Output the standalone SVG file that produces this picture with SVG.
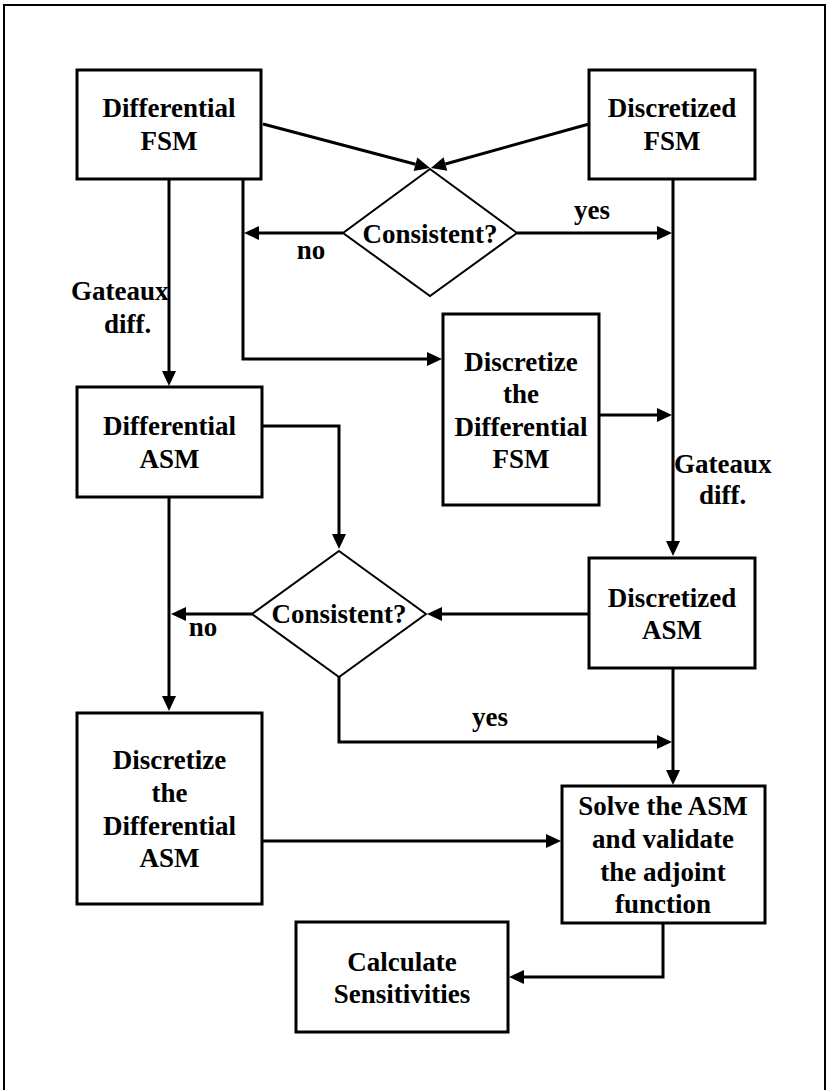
<svg xmlns="http://www.w3.org/2000/svg" width="826" height="1090" viewBox="0 0 826 1090">
<style>
.box{fill:#fff;stroke:#000;stroke-width:3}
.dia{fill:#fff;stroke:#000;stroke-width:2}
.t{font-family:"Liberation Serif","Times New Roman",serif;font-weight:bold;font-size:27px;fill:#000;text-anchor:middle}
.l{font-family:"Liberation Serif","Times New Roman",serif;font-weight:bold;font-size:27px;fill:#000}
.ca{fill:none;stroke:#000;stroke-width:3;marker-end:url(#ah)}
</style>
<defs>
<marker id="ah" markerUnits="userSpaceOnUse" markerWidth="16" markerHeight="14" refX="0" refY="7" orient="auto" overflow="visible">
<path d="M0,0 L15,7 L0,14 z" fill="#000"/>
</marker>
</defs>
<rect x="4" y="5" width="821" height="1100" fill="#fff" stroke="#000" stroke-width="2"/>
<g id="connectors">
<path class="ca" d="M263,124 L415.5,164.2"/>
<path class="ca" d="M589,124 L445.4,164"/>
<path class="ca" d="M343,233 L259,233"/>
<path class="ca" d="M517,233 L657,233"/>
<path class="ca" d="M169,179 L169,371"/>
<path class="ca" d="M243,179 L243,359 L427,359"/>
<path class="ca" d="M673,179 L673,541"/>
<path class="ca" d="M599,415 L657,415"/>
<path class="ca" d="M262,426 L339,426 L339,534"/>
<path class="ca" d="M589,614 L442,614"/>
<path class="ca" d="M252,614 L186,614"/>
<path class="ca" d="M169,497 L169,696"/>
<path class="ca" d="M339,677 L339,742 L657,742"/>
<path class="ca" d="M673,668 L673,770"/>
<path class="ca" d="M262,841 L546,841"/>
<path class="ca" d="M663,923 L663,977 L524,977"/>
</g>
<g id="differential-fsm">
<rect class="box" x="77" y="70" width="184" height="109"/>
<text class="t" x="169" y="117">Differential</text>
<text class="t" x="169" y="150">FSM</text>
</g>
<g id="discretized-fsm">
<rect class="box" x="589" y="70" width="166" height="109"/>
<text class="t" x="672" y="117">Discretized</text>
<text class="t" x="672" y="150">FSM</text>
</g>
<g id="consistent-1">
<polygon class="dia" points="430,169 517,233 430,296 343,233"/>
<text class="t" x="430" y="243">Consistent?</text>
</g>
<g id="discretize-fsm">
<rect class="box" x="443" y="314" width="156" height="191"/>
<text class="t" x="521" y="371">Discretize</text>
<text class="t" x="521" y="403">the</text>
<text class="t" x="521" y="436">Differential</text>
<text class="t" x="521" y="468">FSM</text>
</g>
<g id="differential-asm">
<rect class="box" x="77" y="387" width="185" height="110"/>
<text class="t" x="169.5" y="435">Differential</text>
<text class="t" x="169.5" y="468">ASM</text>
</g>
<g id="consistent-2">
<polygon class="dia" points="339,551 426,614 339,677 252,614"/>
<text class="t" x="339" y="623">Consistent?</text>
</g>
<g id="discretized-asm">
<rect class="box" x="589" y="558" width="166" height="110"/>
<text class="t" x="672" y="607">Discretized</text>
<text class="t" x="672" y="639">ASM</text>
</g>
<g id="discretize-asm">
<rect class="box" x="77" y="713" width="185" height="191"/>
<text class="t" x="169.5" y="769">Discretize</text>
<text class="t" x="169.5" y="802">the</text>
<text class="t" x="169.5" y="835">Differential</text>
<text class="t" x="169.5" y="867">ASM</text>
</g>
<g id="solve">
<rect class="box" x="562" y="786" width="203" height="137"/>
<text class="t" x="663" y="815">Solve the ASM</text>
<text class="t" x="663" y="848">and validate</text>
<text class="t" x="663" y="881">the adjoint</text>
<text class="t" x="663" y="913">function</text>
</g>
<g id="calculate">
<rect class="box" x="296" y="922" width="212" height="110"/>
<text class="t" x="402" y="971">Calculate</text>
<text class="t" x="402" y="1003">Sensitivities</text>
</g>
<g id="labels">
<text class="t" x="311" y="259">no</text>
<text class="t" x="592" y="219">yes</text>
<text class="l" x="71" y="300">Gateaux</text>
<text class="l" x="104" y="333">diff.</text>
<text class="l" x="674" y="473">Gateaux</text>
<text class="l" x="699" y="504">diff.</text>
<text class="t" x="203" y="636">no</text>
<text class="t" x="490" y="726">yes</text>
</g>
</svg>
